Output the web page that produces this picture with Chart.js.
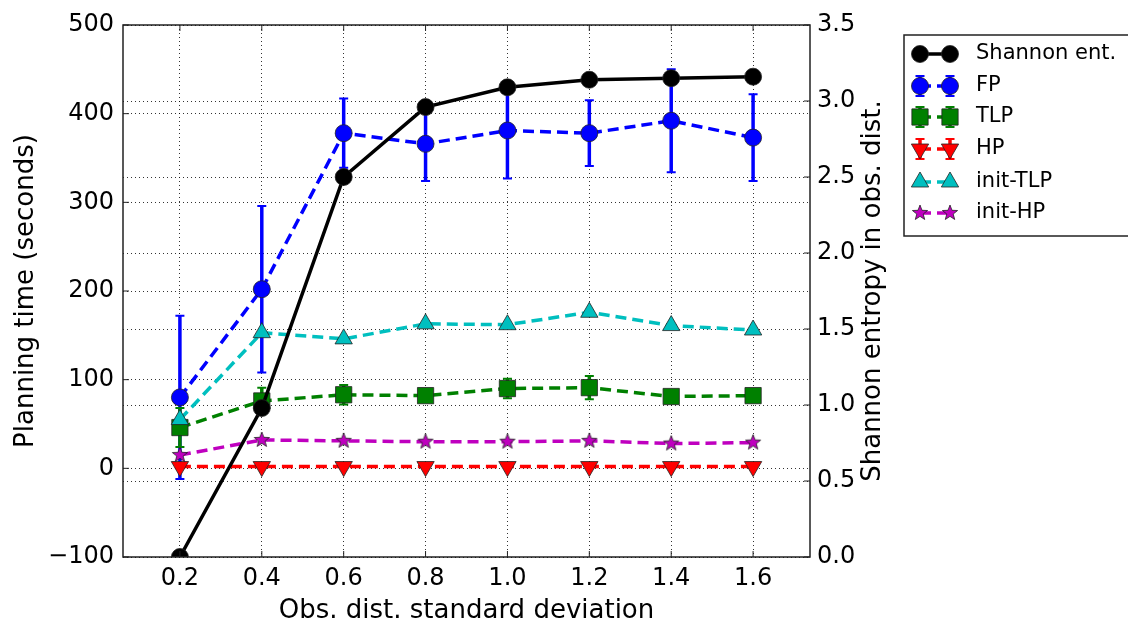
<!DOCTYPE html>
<html>
<head>
<meta charset="utf-8">
<script src="https://cdn.jsdelivr.net/npm/chart.js@4/dist/chart.umd.min.js"></script>
<style>
  html, body { margin: 0; padding: 0; background: #fff; }
  #wrap { width: 1128px; height: 627px; }
</style>
</head>
<body>
<div id="wrap"><canvas id="chart" width="1128" height="627"></canvas></div>
<script>
// obs. dist. standard deviation
const xValues = [0.2, 0.4, 0.6, 0.8, 1.0, 1.2, 1.4, 1.6];
const xTicks = [0.2, 0.4, 0.6, 0.8, 1.0, 1.2, 1.4, 1.6];

// right axis: shannon entropy
const shannonEnt = [0.0, 0.98, 2.50, 2.96, 3.09, 3.14, 3.15, 3.16];

// left axis: planning time (seconds)
const fpTime = [80, 202, 378, 366, 381, 378, 392, 373];
const fpErr = [92, 94, 39, 42, 54, 37, 58, 49];
const tlpTime = [46, 76, 83, 82, 90, 91, 81, 82];
const tlpErr = [22, 15, 11, 5, 11, 13, 5, 6];
const hpTime = [2, 2, 2, 2, 2, 2, 2, 2];
const hpErr = [1, 1, 1, 1, 1, 1, 1, 1];
const initTlpTime = [55, 153, 146, 163, 162, 176, 161, 156];
const initHpTime = [15, 32, 31, 30, 30, 31, 28, 29];

const FONT = 'DejaVu Sans';

function makeStar(r) {
  const c = document.createElement('canvas');
  const s = Math.ceil(r * 2 + 4);
  c.width = s; c.height = s;
  const g = c.getContext('2d');
  g.beginPath();
  for (let i = 0; i < 10; i++) {
    const rad = i % 2 ? r * 0.42 : r;
    const a = -Math.PI / 2 + i * Math.PI / 5;
    g.lineTo(s / 2 + rad * Math.cos(a), s / 2 + rad * Math.sin(a));
  }
  g.closePath();
  g.fillStyle = '#bf00bf';
  g.fill();
  g.lineWidth = 0.8;
  g.strokeStyle = '#222';
  g.stroke();
  return c;
}
const starImg = makeStar(8);

function series(label, values, color, extra) {
  return Object.assign({
    label: label,
    data: xValues.map((x, i) => ({x: x, y: values[i]})),
    borderColor: color,
    backgroundColor: color,
    borderWidth: 3.5,
    borderDash: [11, 6],
    pointBackgroundColor: color,
    pointBorderColor: '#222',
    pointBorderWidth: 0.8,
    pointRadius: 8,
    yAxisID: 'y',
    tension: 0
  }, extra);
}

const datasets = [
  series('Shannon ent.', shannonEnt, '#000000', {borderDash: [], yAxisID: 'y2', pointStyle: 'circle', pointRadius: 8.5, order: 0}),
  series('FP', fpTime, '#0000ff', {pointStyle: 'circle', pointRadius: 8.5, errors: fpErr, order: 5}),
  series('TLP', tlpTime, '#008000', {pointStyle: 'rect', pointRadius: 11.5, errors: tlpErr, order: 4}),
  series('HP', hpTime, '#ff0000', {pointStyle: 'triangle', pointRotation: 180, pointRadius: 10, errors: hpErr, order: 3}),
  series('init-TLP', initTlpTime, '#00bfbf', {pointStyle: 'triangle', pointRadius: 10, order: 2}),
  series('init-HP', initHpTime, '#bf00bf', {pointStyle: starImg, pointRadius: 8, order: 1})
];

function drawErrBar(ctx, x, yTop, yBot, color, cap) {
  ctx.save();
  ctx.strokeStyle = color;
  ctx.setLineDash([]);
  ctx.lineWidth = 3.5;
  ctx.beginPath();
  ctx.moveTo(x, yTop); ctx.lineTo(x, yBot);
  ctx.stroke();
  ctx.lineWidth = 2;
  ctx.beginPath();
  ctx.moveTo(x - cap, yTop); ctx.lineTo(x + cap, yTop);
  ctx.moveTo(x - cap, yBot); ctx.lineTo(x + cap, yBot);
  ctx.stroke();
  ctx.restore();
}

const errorBars = {
  id: 'errorBars',
  beforeDatasetDraw(chart, args) {
    const ds = chart.data.datasets[args.index];
    if (!ds.errors) return;
    const ctx = chart.ctx;
    const yScale = chart.scales[ds.yAxisID];
    ctx.save();
    ctx.beginPath();
    ctx.rect(chart.chartArea.left, chart.chartArea.top, chart.chartArea.width, chart.chartArea.height);
    ctx.clip();
    args.meta.data.forEach((pt, i) => {
      const v = ds.data[i].y;
      const e = ds.errors[i];
      drawErrBar(ctx, pt.x, yScale.getPixelForValue(v + e), yScale.getPixelForValue(v - e), ds.borderColor, 4.5);
    });
    ctx.restore();
  }
};

const frameAndLegend = {
  id: 'frameAndLegend',
  afterDraw(chart) {
    const ctx = chart.ctx;
    const a = chart.chartArea;
    const sx = chart.scales.x, sy = chart.scales.y, sy2 = chart.scales.y2;
    ctx.save();
    // inward ticks
    ctx.strokeStyle = '#222';
    ctx.lineWidth = 1;
    ctx.beginPath();
    sx.ticks.forEach(t => {
      const px = sx.getPixelForValue(t.value);
      ctx.moveTo(px, a.bottom); ctx.lineTo(px, a.bottom - 6);
      ctx.moveTo(px, a.top); ctx.lineTo(px, a.top + 6);
    });
    sy.ticks.forEach(t => {
      const py = sy.getPixelForValue(t.value);
      ctx.moveTo(a.left, py); ctx.lineTo(a.left + 6, py);
    });
    sy2.ticks.forEach(t => {
      const py = sy2.getPixelForValue(t.value);
      ctx.moveTo(a.right, py); ctx.lineTo(a.right - 6, py);
    });
    ctx.stroke();
    // frame
    ctx.lineWidth = 1.5;
    ctx.strokeRect(a.left, a.top, a.width, a.height);

    // right axis title, reading bottom to top
    ctx.fillStyle = '#000';
    ctx.font = '26px "' + FONT + '"';
    ctx.textAlign = 'center';
    ctx.textBaseline = 'middle';
    ctx.save();
    ctx.translate(873, (a.top + a.bottom) / 2);
    ctx.rotate(-Math.PI / 2);
    ctx.fillText('Shannon entropy in obs. dist.', 0, 0);
    ctx.restore();

    // legend
    const bx = 904, by = 35, bh = 201;
    ctx.fillStyle = '#fff';
    ctx.fillRect(bx, by, 240, bh);
    ctx.strokeStyle = '#222';
    ctx.lineWidth = 1.5;
    ctx.strokeRect(bx, by, 240, bh);
    const rowY = [54, 86, 117, 149, 182, 213];
    chart.data.datasets.forEach((ds, i) => {
      const y = rowY[i];
      const x1 = 920, x2 = 950;
      ctx.strokeStyle = ds.borderColor;
      ctx.lineWidth = ds.borderWidth;
      ctx.setLineDash(ds.borderDash);
      ctx.beginPath();
      ctx.moveTo(x1, y); ctx.lineTo(x2, y);
      ctx.stroke();
      ctx.setLineDash([]);
      [x1, x2].forEach(px => {
        if (ds.errors) drawErrBar(ctx, px, y - 10, y + 10, ds.borderColor, 4.5);
        ctx.fillStyle = ds.pointBackgroundColor;
        ctx.strokeStyle = ds.pointBorderColor;
        ctx.lineWidth = ds.pointBorderWidth;
        Chart.helpers.drawPoint(ctx, {
          pointStyle: ds.pointStyle,
          radius: ds.pointRadius,
          rotation: ds.pointRotation || 0,
          borderWidth: ds.pointBorderWidth
        }, px, y);
      });
      ctx.fillStyle = '#000';
      ctx.font = '21px "' + FONT + '"';
      ctx.textAlign = 'left';
      ctx.textBaseline = 'middle';
      ctx.fillText(ds.label, 976, y);
    });
    ctx.restore();
  }
};

const gridStyle = {color: 'rgba(0,0,0,0.8)', lineWidth: 1, drawTicks: false};
const borderStyle = {display: false, dash: [1, 3]};

new Chart(document.getElementById('chart'), {
  type: 'line',
  data: {datasets: datasets},
  options: {
    responsive: false,
    animation: false,
    events: [],
    layout: {padding: {left: 0, right: 228, top: 25, bottom: 0}},
    font: {family: FONT},
    plugins: {legend: {display: false}, tooltip: {enabled: false}},
    scales: {
      x: {
        type: 'linear',
        min: 0.061,
        max: 1.739,
        afterBuildTicks: s => { s.ticks = xTicks.map(v => ({value: v})); },
        ticks: {callback: v => v.toFixed(1), font: {family: FONT, size: 24}, color: '#000', padding: 7, maxRotation: 0, autoSkip: false},
        grid: gridStyle,
        border: borderStyle,
        title: {display: true, text: 'Obs. dist. standard deviation', font: {family: FONT, size: 26}, color: '#000', padding: {top: 0, bottom: 0}},
        afterFit: s => { s.height = 70; }
      },
      y: {
        position: 'left',
        min: -100,
        max: 500,
        ticks: {stepSize: 100, callback: v => String(v).replace('-', '\u2212'), font: {family: FONT, size: 24}, color: '#000', padding: 9},
        grid: gridStyle,
        border: borderStyle,
        title: {display: true, text: 'Planning time (seconds)', font: {family: FONT, size: 26}, color: '#000', padding: {top: 11, bottom: 0}},
        afterFit: s => { s.width = 123; }
      },
      y2: {
        position: 'right',
        min: 0,
        max: 3.5,
        ticks: {stepSize: 0.5, callback: v => v.toFixed(1), font: {family: FONT, size: 24}, color: '#000', padding: 7},
        grid: gridStyle,
        border: borderStyle,
        afterFit: s => { s.width = 90; }
      }
    }
  },
  plugins: [errorBars, frameAndLegend]
});
</script>
</body>
</html>
